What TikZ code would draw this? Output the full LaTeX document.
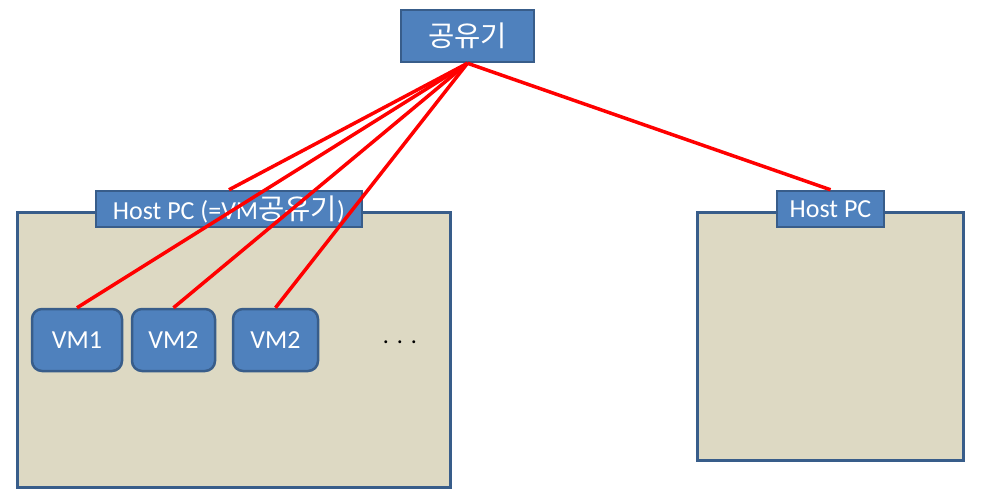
\documentclass[tikz,border=0pt]{standalone}
\usepackage{fontspec}
\setmainfont{Carlito}
\newfontfamily\kr[Scale=1.1]{Noto Sans CJK KR}
\definecolor{bluefill}{HTML}{4F81BD}
\definecolor{blueline}{HTML}{385D8A}
\definecolor{tan}{HTML}{DDD9C3}
\definecolor{redline}{HTML}{FF0000}
\begin{document}
\begin{tikzpicture}[x=1pt,y=-1pt,
  bluebox/.style={draw=blueline,fill=bluefill,line width=2.5pt,inner sep=0pt,
    text=white,font=\fontsize{26}{29}\selectfont},
  vmbox/.style={bluebox,rounded corners=10pt,minimum height=62pt},
  hostbox/.style={draw=blueline,fill=tan,line width=3pt,inner sep=0pt},
  link/.style={draw=redline,line width=3.5pt}]
\useasboundingbox (0,0) rectangle (982,491);
% host boxes
\node[hostbox,minimum width=433pt,minimum height=275pt] (lhost) at (233.5,349.5) {};
\node[hostbox,minimum width=266pt,minimum height=248pt] (rhost) at (830,336) {};
% labels
\node[bluebox,minimum width=266pt,minimum height=36pt] (llbl) at (229,209) {Host PC (=VM{\kr 공유기})};
\node[bluebox,minimum width=107pt,minimum height=36pt] (rlbl) at (830.5,209) {Host PC};
% router
\node[bluebox,minimum width=133pt,minimum height=52pt] (router) at (467.5,36) {\kr 공유기};
% VMs
\node[vmbox,minimum width=90pt] (vm1) at (77,340) {VM1};
\node[vmbox,minimum width=83pt] (vm2) at (173.5,340) {VM2};
\node[vmbox,minimum width=85pt] (vm3) at (275.5,340) {VM2};
\node[font=\fontsize{24}{28}\selectfont,inner sep=0pt] (dots) at (400,342) {.\,\,.\,\,.};
% links
\draw[link] (router.south) -- (llbl.north);
\draw[link] (router.south) -- (vm1.north);
\draw[link] (router.south) -- (vm2.north);
\draw[link] (router.south) -- (vm3.north);
\draw[link] (router.south) -- (rlbl.north);
\end{tikzpicture}
\end{document}
